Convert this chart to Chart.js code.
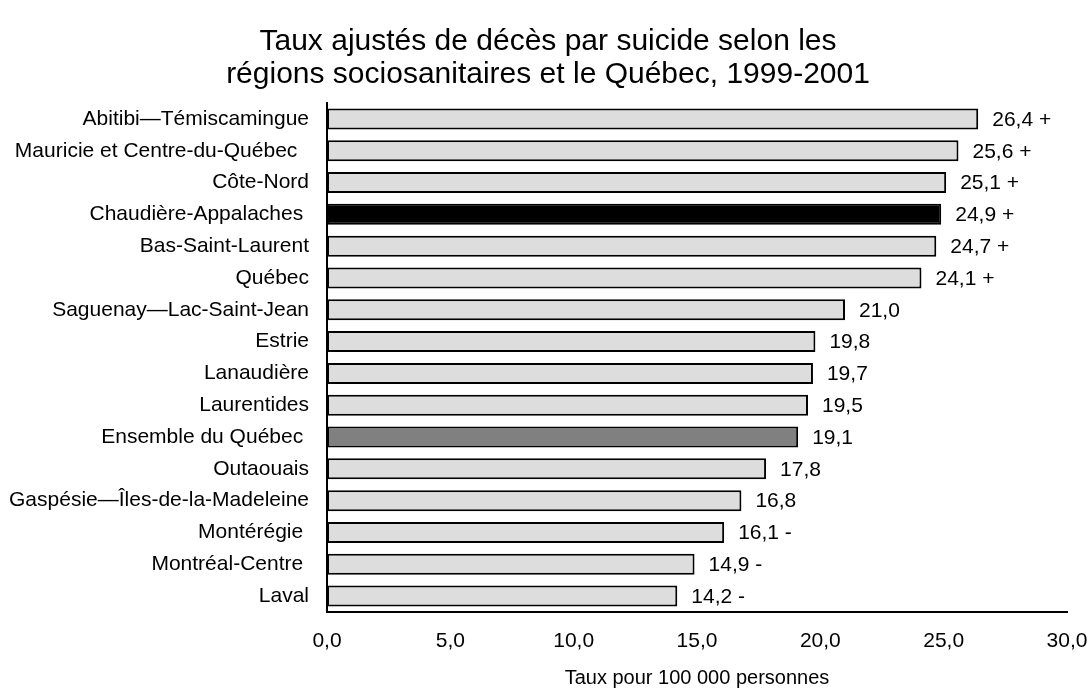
<!DOCTYPE html>
<html lang="fr">
<head>
<meta charset="utf-8">
<title>Taux ajustés de décès par suicide</title>
<script src="https://cdn.jsdelivr.net/npm/chart.js@4/dist/chart.umd.min.js"></script>
<style>
  body { margin: 0; background: #fff; }
  .chart-box { width: 1091px; height: 688px; }
</style>
</head>
<body>
<div class="chart-box">
  <canvas id="suicideChart"></canvas>
</div>
<script>
// regions, top to bottom (trailing spaces are in the original labels)
const regions = [
  "Abitibi\u2014Témiscamingue",
  "Mauricie et Centre-du-Québec  ",
  "Côte-Nord",
  "Chaudière-Appalaches ",
  "Bas-Saint-Laurent",
  "Québec",
  "Saguenay\u2014Lac-Saint-Jean",
  "Estrie",
  "Lanaudière",
  "Laurentides",
  "Ensemble du Québec ",
  "Outaouais",
  "Gaspésie\u2014Îles-de-la-Madeleine",
  "Montérégie ",
  "Montréal-Centre ",
  "Laval",
];
const rates = [26.4, 25.6, 25.1, 24.9, 24.7, 24.1, 21.0, 19.8, 19.7, 19.5, 19.1, 17.8, 16.8, 16.1, 14.9, 14.2];
// significance marks printed after the value
const marks = ["+", "+", "+", "+", "+", "+", "", "", "", "", "", "", "", "-", "-", "-"];
const barColors = [
  "#dddddd", "#dddddd", "#dddddd", "#000000", "#dddddd", "#dddddd", "#dddddd", "#dddddd",
  "#dddddd", "#dddddd", "#808080", "#dddddd", "#dddddd", "#dddddd", "#dddddd", "#dddddd",
];
const xTicks = [0, 5, 10, 15, 20, 25, 30];

const FONT = "'Liberation Sans', Arial, sans-serif";

const fmt = (v) => v.toFixed(1).replace(".", ",");

// writes "26,4 +" to the right of each bar
const valueLabels = {
  id: "valueLabels",
  afterDatasetsDraw(chart) {
    const ctx = chart.ctx;
    const meta = chart.getDatasetMeta(0);
    ctx.save();
    ctx.font = "21px " + FONT;
    ctx.fillStyle = "#000";
    ctx.textAlign = "left";
    ctx.textBaseline = "middle";
    meta.data.forEach((bar, i) => {
      const txt = fmt(rates[i]) + (marks[i] ? " " + marks[i] : "");
      ctx.fillText(txt, bar.x + 14, bar.y + 1);
    });
    ctx.restore();
  },
};

const ctx = document.getElementById("suicideChart").getContext("2d");
new Chart(ctx, {
  type: "bar",
  data: {
    labels: regions,
    datasets: [
      {
        data: rates,
        backgroundColor: barColors,
        borderColor: "#000",
        borderWidth: 2,
        borderSkipped: false,
        barPercentage: 0.66,
        categoryPercentage: 1,
      },
    ],
  },
  options: {
    indexAxis: "y",
    responsive: true,
    maintainAspectRatio: false,
    animation: false,
    layout: { padding: { left: 5, right: 0, top: 0, bottom: 0 } },
    plugins: {
      legend: { display: false },
      tooltip: { enabled: false },
      title: {
        display: true,
        text: [
          "Taux ajustés de décès par suicide selon les",
          "régions sociosanitaires et le Québec, 1999-2001",
        ],
        color: "#000",
        font: { family: FONT, size: 30, weight: "normal", lineHeight: 1.1 },
        padding: { top: 25, bottom: 12 },
      },
    },
    scales: {
      x: {
        min: 0,
        max: 30,
        afterFit: (scale) => {
          scale.height = 76;
          scale.paddingLeft = 0;
          scale.paddingRight = 24;
        },
        afterBuildTicks: (scale) => { scale.ticks = xTicks.map((v) => ({ value: v })); },
        grid: { display: false, drawTicks: false },
        border: { display: true, color: "#000", width: 2 },
        ticks: {
          color: "#000",
          padding: 17,
          font: { family: FONT, size: 21 },
          callback: (v) => fmt(v),
        },
        title: {
          display: true,
          text: "Taux pour 100 000 personnes",
          color: "#000",
          font: { family: FONT, size: 20, lineHeight: 1.0 },
          padding: { top: 0, bottom: 0 },
        },
      },
      y: {
        afterFit: (scale) => { scale.width = 322; },
        grid: { display: false, drawTicks: false },
        border: { display: true, color: "#000", width: 2 },
        ticks: {
          color: "#000",
          padding: 18,
          autoSkip: false,
          font: { family: FONT, size: 21 },
        },
      },
    },
  },
  plugins: [valueLabels],
});
</script>
</body>
</html>
